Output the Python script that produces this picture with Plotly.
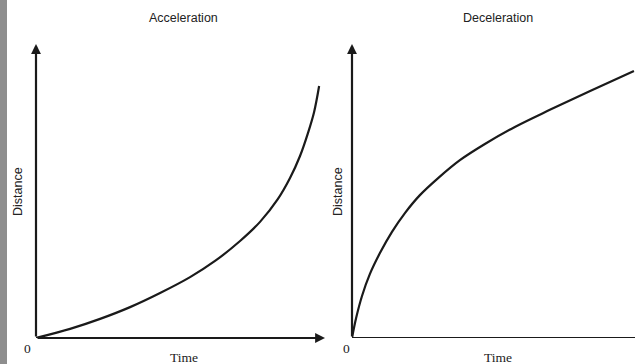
import plotly.graph_objects as go

# Distance-time curves (time and distance in arbitrary units)
accel_time = [0, 1.16, 2.18, 3.20, 4.22, 5.24, 6.09, 6.94, 7.62, 8.23, 8.64, 8.98, 9.25, 9.46, 9.63]
accel_dist = [0, 0.31, 0.65, 1.05, 1.53, 2.07, 2.62, 3.30, 3.95, 4.73, 5.44, 6.19, 6.97, 7.69, 8.57]

decel_time = [0, 0.14, 0.34, 0.61, 0.95, 1.36, 1.80, 2.31, 2.93, 3.67, 4.52, 5.54, 6.73, 8.10, 9.59]
decel_dist = [0, 0.68, 1.43, 2.18, 2.89, 3.61, 4.25, 4.86, 5.44, 6.05, 6.60, 7.18, 7.76, 8.40, 9.08]

panel_titles = ["Acceleration", "Deceleration"]
x_label = "Time"
y_label = "Distance"
origin_label = "0"

W, H = 635, 364
X_RANGE = [0, 10]
Y_RANGE = [0, 10]
PX = 29.4  # pixels per data unit

left_x0 = 36
right_x0 = 352
y0_px = 338


def xdom(x0):
    return [x0 / W, min(1.0, (x0 + PX * (X_RANGE[1] - X_RANGE[0])) / W)]


ydom = [(H - y0_px) / H, (H - y0_px + PX * (Y_RANGE[1] - Y_RANGE[0])) / H]

fig = go.Figure()
line_style = dict(color="#1a1a1a", width=2.2, shape="spline", smoothing=1.0)
fig.add_trace(go.Scatter(x=accel_time, y=accel_dist, mode="lines", line=line_style,
                         xaxis="x", yaxis="y", showlegend=False, hoverinfo="skip"))
fig.add_trace(go.Scatter(x=decel_time, y=decel_dist, mode="lines", line=line_style,
                         xaxis="x2", yaxis="y2", showlegend=False, hoverinfo="skip"))

hidden = dict(visible=False, fixedrange=True)
fig.update_layout(
    width=W, height=H,
    margin=dict(l=0, r=0, t=0, b=0),
    paper_bgcolor="white", plot_bgcolor="rgba(0,0,0,0)",
    xaxis=dict(domain=xdom(left_x0), range=X_RANGE, anchor="y", **hidden),
    yaxis=dict(domain=ydom, range=Y_RANGE, anchor="x", **hidden),
    xaxis2=dict(domain=xdom(right_x0), range=[0, (W - right_x0) / PX], anchor="y2", **hidden),
    yaxis2=dict(domain=ydom, range=Y_RANGE, anchor="x2", **hidden),
)

axis_color = "#1a1a1a"
arrow = dict(showarrow=True, arrowhead=2, arrowsize=0.9, arrowwidth=2.2,
             arrowcolor=axis_color, text="")
y_tip = (y0_px - 44) / PX

# left panel axes
fig.add_annotation(x=0, y=y_tip, ax=0, ay=0, xref="x", yref="y", axref="x", ayref="y", **arrow)
fig.add_annotation(x=(325 - left_x0) / PX, y=0, ax=0, ay=0, xref="x", yref="y",
                   axref="x", ayref="y", **arrow)
# right panel axes
fig.add_annotation(x=0, y=y_tip, ax=0, ay=0, xref="x2", yref="y2", axref="x2", ayref="y2", **arrow)
fig.add_shape(type="line", x0=0, y0=0, x1=(W - right_x0) / PX, y1=0, xref="x2", yref="y2",
              line=dict(color=axis_color, width=2.2))

# texture strip at the left edge
fig.add_shape(type="rect", xref="paper", yref="paper", x0=0, x1=7 / W, y0=0, y1=1,
              fillcolor="#8e8e8e", line=dict(width=0), layer="below")

sans = dict(family="Liberation Sans, Arial, sans-serif", size=12.5, color="#222")
serif = dict(family="Liberation Serif, Times New Roman, serif", size=13.5, color="#222")

for title, cx in zip(panel_titles, [183, 498]):
    fig.add_annotation(text=title, x=cx / W, y=1 - 18 / H, xref="paper", yref="paper",
                       showarrow=False, font=sans, xanchor="center", yanchor="middle")
for cx in [184, 498]:
    fig.add_annotation(text=x_label, x=cx / W, y=1 - 357 / H, xref="paper", yref="paper",
                       showarrow=False, font=serif, xanchor="center", yanchor="middle")
for cx in [18, 338]:
    fig.add_annotation(text=y_label, x=cx / W, y=1 - 192 / H, xref="paper", yref="paper",
                       showarrow=False, font=sans, textangle=-90,
                       xanchor="center", yanchor="middle")
for cx in [27, 346]:
    fig.add_annotation(text=origin_label, x=cx / W, y=1 - 348 / H, xref="paper", yref="paper",
                       showarrow=False, font=serif, xanchor="center", yanchor="middle")

fig.write_html("out.html")
